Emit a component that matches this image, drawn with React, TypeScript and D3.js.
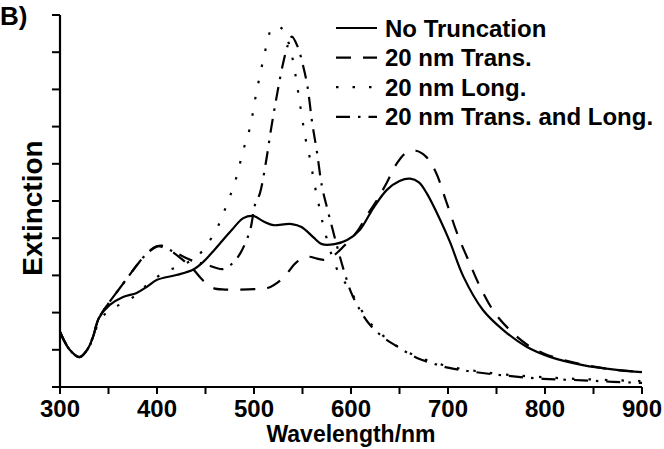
import { useEffect, useRef } from "react";
import * as d3 from "d3";

type Pt = [number, number];

// wavelength (nm), extinction (axis units, 0..10 ticks)
const noTruncation: Pt[] = [
  [300, 1.48], [310, 1.0], [320, 0.81], [328, 1.0], [334, 1.34], [340, 1.85], [351, 2.2],
  [365, 2.42], [379, 2.53], [390, 2.7], [400, 2.88], [420, 3.01], [437, 3.15], [448, 3.37],
  [458, 3.65], [468, 3.95], [478, 4.25], [489, 4.54], [499, 4.6], [510, 4.45], [520, 4.35],
  [530, 4.37], [539, 4.38], [549, 4.3], [561, 4.03], [570, 3.84], [583, 3.84], [596, 3.95],
  [609, 4.22], [623, 4.81], [637, 5.3], [650, 5.54], [661, 5.6], [670, 5.5], [678, 5.21],
  [692, 4.49], [702, 3.9], [716, 2.96], [736, 2.07], [757, 1.53], [781, 1.08], [805, 0.81],
  [839, 0.59], [874, 0.46], [900, 0.4],
];

const trans20: Pt[] = [
  [300, 1.48], [310, 1.0], [320, 0.8], [328, 1.0], [334, 1.35], [340, 1.85], [350, 2.25],
  [360, 2.6], [370, 2.95], [380, 3.3], [390, 3.6], [400, 3.78], [405, 3.8], [415, 3.65],
  [425, 3.45], [436, 3.2], [448, 2.85], [458, 2.66], [470, 2.62], [485, 2.62], [500, 2.63],
  [514, 2.66], [530, 2.93], [544, 3.36], [556, 3.5], [565, 3.45], [573, 3.42], [583, 3.55],
  [595, 3.85], [606, 4.17], [618, 4.68], [627, 5.03], [637, 5.5], [647, 6.0], [657, 6.3],
  [667, 6.35], [677, 6.2], [687, 5.8], [698, 5.0], [710, 4.09], [722, 3.35], [733, 2.7],
  [748, 2.0], [765, 1.5], [782, 1.13], [798, 0.91], [812, 0.78], [840, 0.6], [870, 0.47],
  [900, 0.4],
];

const long20: Pt[] = [
  [300, 1.48], [310, 1.0], [320, 0.8], [328, 1.0], [334, 1.3], [340, 1.75], [348, 2.0],
  [357, 2.15], [374, 2.39], [390, 2.75], [408, 3.09], [426, 3.28], [441, 3.5], [454, 3.92],
  [464, 4.38], [471, 4.84], [481, 5.56], [489, 6.37], [496, 6.99], [502, 7.85], [509, 8.74],
  [513, 9.19], [518, 9.62], [524, 9.7], [530, 9.6], [537, 9.14], [542, 8.5], [546, 7.85],
  [551, 7.0], [554, 6.56], [558, 6.1], [562, 5.5], [566, 5.0], [570, 4.5], [576, 3.9],
  [585, 3.2], [599, 2.6], [618, 1.78], [633, 1.38], [650, 1.06], [670, 0.8], [700, 0.56],
  [750, 0.36], [800, 0.26], [850, 0.2], [900, 0.16],
];

const transLong20: Pt[] = [
  [300, 1.48], [310, 1.0], [320, 0.8], [328, 1.0], [334, 1.35], [340, 1.85], [350, 2.25],
  [360, 2.6], [370, 2.95], [380, 3.3], [390, 3.6], [400, 3.78], [410, 3.72], [420, 3.6],
  [437, 3.39], [452, 3.28], [468, 3.17], [478, 3.33], [486, 3.6], [496, 4.22], [501, 4.9],
  [506, 5.2], [512, 6.0], [518, 7.0], [524, 7.9], [530, 8.7], [535, 9.2], [539, 9.42],
  [545, 9.15], [550, 8.7], [555, 8.1], [560, 7.1], [565, 6.3], [570, 5.4], [576, 4.75],
  [587, 3.65], [593, 3.1], [600, 2.55], [606, 2.22], [618, 1.72], [633, 1.34], [647, 1.1],
  [668, 0.78], [685, 0.63], [700, 0.52], [720, 0.43], [754, 0.32], [798, 0.22], [839, 0.18],
  [870, 0.14], [900, 0.11],
];

const seriesNames = ["No Truncation", "20 nm Trans.", "20 nm Long.", "20 nm Trans. and Long."];
const seriesData = [noTruncation, trans20, long20, transLong20];
const dashes = [null, "15 12", "2.5 14", "14 8 2.5 8"];

const xMajorTicks = [300, 400, 500, 600, 700, 800, 900];
const xMinorTicks = [350, 450, 550, 650, 750, 850];
const yTicks = [0, 1, 2, 3, 4, 5, 6, 7, 8, 9, 10];

const FONT = "'Liberation Sans', Arial, Helvetica, sans-serif";

export default function App() {
  const svgRef = useRef<SVGSVGElement | null>(null);

  useEffect(() => {
    const svgElement = svgRef.current;
    if (!svgElement) return;
    const width = 664;
    const height = 449;
    const margin = { top: 15, right: 22, bottom: 62, left: 60 };

    const x = d3.scaleLinear().domain([300, 900]).range([margin.left, width - margin.right]);
    const y = d3.scaleLinear().domain([0, 10]).range([height - margin.bottom, margin.top]);

    const svg = d3.select(svgElement);
    svg.selectAll("*").remove();

    const line = d3
      .line<Pt>()
      .x((d) => x(d[0]))
      .y((d) => y(d[1]))
      .curve(d3.curveCatmullRom.alpha(0.5));

    seriesData.forEach((data, i) => {
      svg
        .append("path")
        .attr("d", line(data) ?? "")
        .attr("fill", "none")
        .attr("stroke", "#000")
        .attr("stroke-width", 2.2)
        .attr("stroke-dasharray", dashes[i] ?? null);
    });

    // x axis
    const xAxis = svg.append("g").attr("transform", `translate(0, ${y(0)})`);
    xAxis
      .append("line")
      .attr("x1", x(300) - 8)
      .attr("x2", x(900))
      .attr("stroke", "#000")
      .attr("stroke-width", 2.2);
    xAxis
      .selectAll("line.tick")
      .data([...xMajorTicks, ...xMinorTicks])
      .join("line")
      .attr("class", "tick")
      .attr("x1", (d) => x(d))
      .attr("x2", (d) => x(d))
      .attr("y1", 0)
      .attr("y2", 7)
      .attr("stroke", "#000")
      .attr("stroke-width", 2);
    xAxis
      .selectAll("text")
      .data(xMajorTicks)
      .join("text")
      .attr("x", (d) => x(d))
      .attr("y", 30)
      .attr("text-anchor", "middle")
      .attr("font-family", FONT)
      .attr("font-weight", "bold")
      .attr("font-size", 24)
      .text((d) => d.toString());

    // y axis
    const yAxis = svg.append("g").attr("transform", `translate(${x(300)}, 0)`);
    yAxis
      .append("line")
      .attr("y1", y(10))
      .attr("y2", y(0))
      .attr("stroke", "#000")
      .attr("stroke-width", 2.2);
    yAxis
      .selectAll("line.tick")
      .data(yTicks)
      .join("line")
      .attr("class", "tick")
      .attr("x1", -8)
      .attr("x2", 0)
      .attr("y1", (d) => y(d))
      .attr("y2", (d) => y(d))
      .attr("stroke", "#000")
      .attr("stroke-width", 2);

    svg
      .append("text")
      .attr("x", (x(300) + x(900)) / 2)
      .attr("y", 442)
      .attr("text-anchor", "middle")
      .attr("font-family", FONT)
      .attr("font-weight", "bold")
      .attr("font-size", 23)
      .text("Wavelength/nm");

    svg
      .append("text")
      .attr("transform", `translate(42, 208) rotate(-90)`)
      .attr("text-anchor", "middle")
      .attr("font-family", FONT)
      .attr("font-weight", "bold")
      .attr("font-size", 28)
      .text("Extinction");

    svg
      .append("text")
      .attr("x", 0)
      .attr("y", 25)
      .attr("font-family", FONT)
      .attr("font-weight", "bold")
      .attr("font-size", 26)
      .text("B)");

    // legend
    const legend = svg.append("g");
    seriesNames.forEach((name, i) => {
      const base = 36.5 + i * 29.6;
      legend
        .append("line")
        .attr("x1", 336)
        .attr("x2", 377)
        .attr("y1", base - 8.5)
        .attr("y2", base - 8.5)
        .attr("stroke", "#000")
        .attr("stroke-width", 2.2)
        .attr("stroke-dasharray", dashes[i] ?? null);
      legend
        .append("text")
        .attr("x", 385)
        .attr("y", base)
        .attr("font-family", FONT)
        .attr("font-weight", "bold")
        .attr("font-size", 24)
        .text(name);
    });
  }, []);

  return (
    <svg
      ref={svgRef}
      width={664}
      height={449}
      style={{ position: "absolute", left: 0, top: 0, background: "#fff" }}
    />
  );
}
